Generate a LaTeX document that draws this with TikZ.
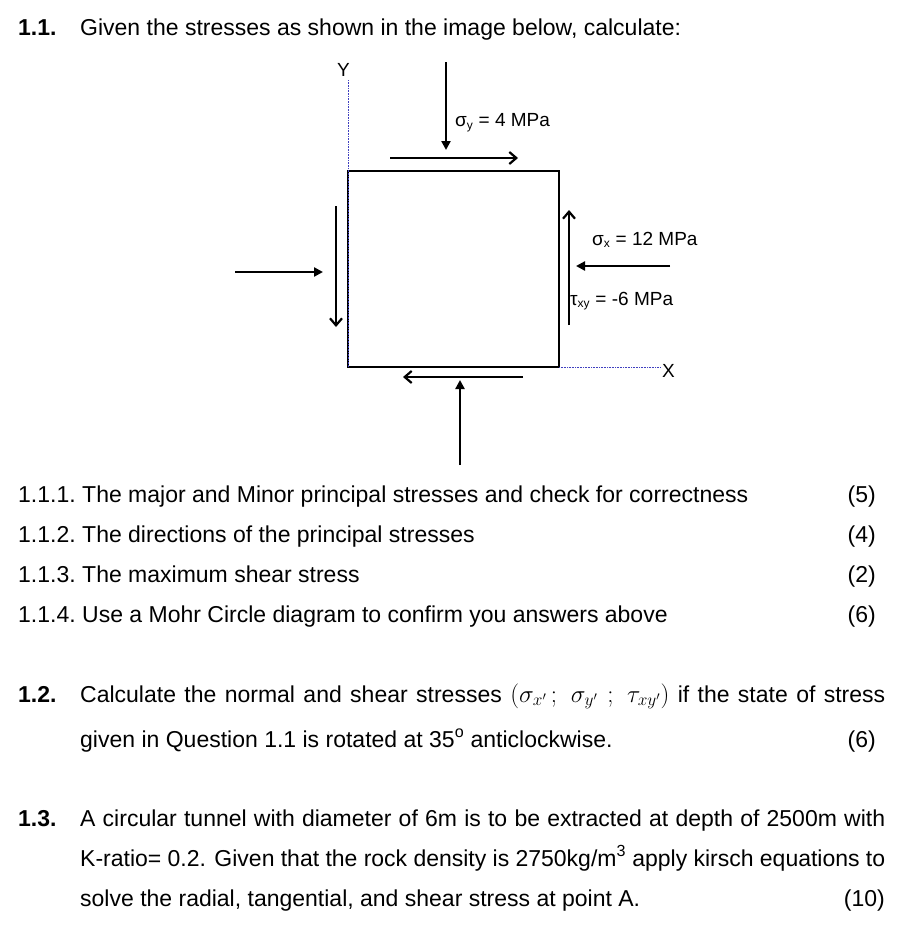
\documentclass[tikz,border=0pt]{standalone}
\usepackage{fontspec}
\setmainfont{Liberation Sans}
\usetikzlibrary{arrows.meta}
\begin{document}
\begin{tikzpicture}[x=1pt,y=-1pt,
  txt/.style={anchor=base west,inner sep=0pt,font=\fontsize{23}{27}\selectfont},
  num/.style={anchor=base east,inner sep=0pt,font=\fontsize{23}{27}\selectfont},
  lab/.style={anchor=west,inner sep=0pt,font=\fontsize{19}{22}\selectfont},
  force/.style={line width=2.6pt,-{Triangle[length=9pt,width=9pt]}},
  shear/.style={line width=2.6pt,-{Straight Barb[length=7pt,width=12pt,line width=2.2pt]}},
  axis/.style={densely dotted,blue!50!gray,line width=0.6pt}]
\useasboundingbox (0,0) rectangle (920,940);
\node[txt] (h1) at (18,35) {\textbf{1.1.}};
\node[txt] (t1) at (80,35) {Given the stresses as shown in the image below, calculate:};
% diagram
\draw[line width=2.6pt] (348,171) rectangle (559,367);
\coordinate (yt) at (348,80); \coordinate (o) at (348,367); \coordinate (xe) at (660,367);
\draw[axis] (o) -- (yt); \draw[axis] (559,367) -- (xe);
\node[lab] (Y) at (337,70) {Y};
\node[lab] (X) at (662,371) {X};
\coordinate (a1) at (446,62); \coordinate (a1e) at (446,150);
\draw[force] (a1) -- (a1e);
\node[lab] (sy) at (455,123) {σ\textsubscript{\large y} = 4 MPa};
\coordinate (s1) at (390,158); \coordinate (s1e) at (518,158);
\draw[shear] (s1) -- (s1e);
\coordinate (s2) at (336,206); \coordinate (s2e) at (336,327);
\draw[shear] (s2) -- (s2e);
\coordinate (a2) at (235,272); \coordinate (a2e) at (323,272);
\draw[force] (a2) -- (a2e);
\coordinate (s3) at (569,325); \coordinate (s3e) at (569,210);
\draw[shear] (s3) -- (s3e);
\node[lab] (sx) at (592,240) {σ\textsubscript{\large x} = 12 MPa};
\coordinate (a3) at (670,266); \coordinate (a3e) at (576,266);
\draw[force] (a3) -- (a3e);
\node[lab] (txy) at (570,301) {τ\textsubscript{\large xy} = -6 MPa};
\coordinate (s4) at (523,377); \coordinate (s4e) at (403,377);
\draw[shear] (s4) -- (s4e);
\coordinate (a4) at (460,465); \coordinate (a4e) at (460,380);
\draw[force] (a4) -- (a4e);
% questions
\node[txt] (n1) at (18,502) {1.1.1.};
\node[txt] (q1) at (82,502) {The major and Minor principal stresses and check for correctness};
\node[num] (m1) at (876,502) {(5)};
\node[txt] (n2) at (18,542) {1.1.2.};
\node[txt] (q2) at (82,542) {The directions of the principal stresses};
\node[num] (m2) at (876,542) {(4)};
\node[txt] (n3) at (18,582) {1.1.3.};
\node[txt] (q3) at (82,582) {The maximum shear stress};
\node[num] (m3) at (876,582) {(2)};
\node[txt] (n4) at (18,622) {1.1.4.};
\node[txt] (q4) at (82,622) {Use a Mohr Circle diagram to confirm you answers above};
\node[num] (m4) at (876,622) {(6)};
\node[txt] (h2) at (18,702) {\textbf{1.2.}};
\node[txt] (p2a) at (80,702) {\makebox[805pt][s]{Calculate the normal and shear stresses {\fontsize{26}{30}\selectfont$(\sigma_{x'}\,;\ \sigma_{y'}\ ;\ \tau_{xy'})$} if the state of stress}};
\node[txt] (p2b) at (80,747) {given in Question 1.1 is rotated at 35\textsuperscript{o} anticlockwise.};
\node[num] (m5) at (876,747) {(6)};
\node[txt] (h3) at (18,826) {\textbf{1.3.}};
\node[txt] (p3a) at (80,826) {\makebox[805pt][s]{A circular tunnel with diameter of 6m is to be extracted at depth of 2500m with}};
\node[txt] (p3b) at (80,866) {\makebox[805pt][s]{K-ratio= 0.2. Given that the rock density is 2750kg/m\textsuperscript{3} apply kirsch equations to}};
\node[txt] (p3c) at (80,906) {solve the radial, tangential, and shear stress at point A.};
\node[num] (m6) at (885,906) {(10)};
\end{tikzpicture}
\end{document}
